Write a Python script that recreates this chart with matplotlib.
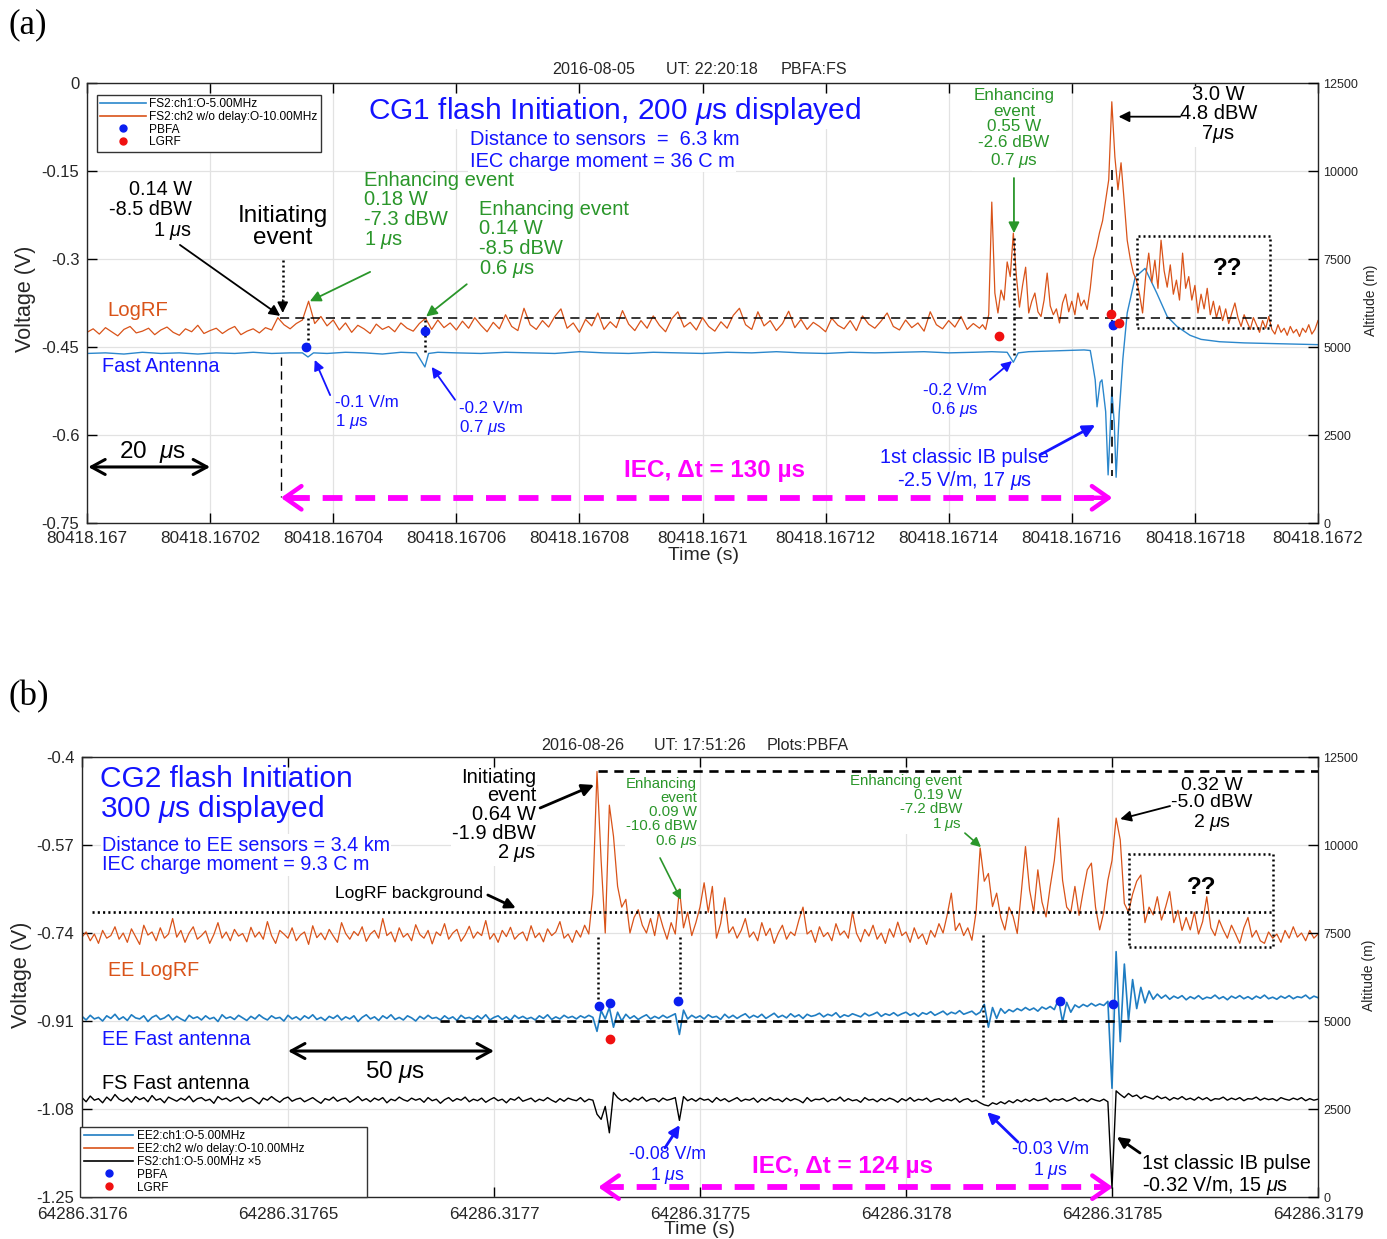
import numpy as np
import matplotlib
matplotlib.use('Agg')
import matplotlib.pyplot as plt
from matplotlib.lines import Line2D
from matplotlib.patches import Rectangle

plt.rcParams['font.family'] = ['Liberation Sans', 'DejaVu Sans']
plt.rcParams['mathtext.fontset'] = 'custom'
plt.rcParams['mathtext.rm'] = 'Liberation Sans'
plt.rcParams['mathtext.it'] = 'Liberation Sans:italic'
plt.rcParams['mathtext.bf'] = 'Liberation Sans:bold'

# ------------------------------------------------------------------ data (a)
a_xticks_us = [0, 20, 40, 60, 80, 100, 120, 140, 160, 180, 200]
a_xticklabels = ['80418.167', '80418.16702', '80418.16704', '80418.16706', '80418.16708',
                 '80418.1671', '80418.16712', '80418.16714', '80418.16716', '80418.16718',
                 '80418.1672']
a_yticks = [0, -0.15, -0.3, -0.45, -0.6, -0.75]
a_yticklabels = ['0', '-0.15', '-0.3', '-0.45', '-0.6', '-0.75']
alt_ticks = [0, 2500, 5000, 7500, 10000, 12500]

# LogRF (mV), 1 us steps from 0 to 145 us
a_rf_coarse_mV = [
    -425, -419, -428, -417, -424, -431, -420, -415, -426, -423,
    -418, -429, -421, -416, -425, -430, -419, -424, -413, -427,
    -422, -418, -427, -420, -415, -429, -423, -419, -426, -417,
    -421, -400, -412, -419, -410, -404, -372, -410, -398, -414,
    -404, -421, -409, -425, -413, -419, -427, -411, -420, -415,
    -424, -409, -418, -423, -410, -401, -420, -404, -417, -409,
    -421, -406, -418, -400, -413, -424, -408, -419, -395, -415,
    -422, -384, -412, -420, -405, -416, -398, -385, -418, -409,
    -425, -403, -414, -392, -420, -407, -417, -388, -411, -422,
    -405, -418, -397, -413, -424, -402, -390, -416, -408, -421,
    -400, -415, -423, -407, -418, -396, -384, -412, -420, -390,
    -414, -405, -422, -410, -389, -417, -403, -420, -408, -415,
    -424, -401, -413, -419, -405, -422, -397, -411, -418, -406,
    -392, -415, -421, -404, -417, -409, -423, -390, -412, -419,
    -405, -416, -398, -420, -410, -418]
# LogRF (mV), 0.5 us steps from 145.5 to 200 us
a_rf_fine_mV = [
    -412, -420, -395, -203, -358, -392, -353, -370, -305, -330,
    -256, -330, -382, -345, -314, -392, -372, -358, -390, -398,
    -370, -324, -380, -395, -385, -409, -375, -360, -390, -372,
    -395, -358, -380, -370, -386, -350, -300, -280, -255, -235,
    -200, -165, -32, -126, -182, -136, -200, -268, -300, -324,
    -336, -360, -392, -330, -290, -340, -302, -350, -268, -320,
    -348, -310, -360, -336, -370, -290, -350, -330, -370, -345,
    -392, -360, -385, -350, -395, -372, -400, -380, -405, -385,
    -410, -392, -375, -400, -415, -395, -408, -420, -400, -412,
    -425, -405, -418, -398, -420, -428, -412, -425, -418, -430,
    -415, -426, -420, -432, -418, -425, -412, -428, -420, -405]
# Fast antenna (a): (time us, mV)
a_fa_points = [
    (0, -461), (3, -460), (6, -462), (9, -459), (12, -461), (15, -460), (18, -462),
    (21, -460), (24, -461), (27, -459), (30, -461), (33, -460), (35, -460), (35.9, -467),
    (36.8, -460), (39, -461), (42, -459), (45, -460), (48, -462), (51, -459), (53.5, -460),
    (54.9, -484), (55.5, -461), (57, -459), (60, -460), (64, -461), (68, -459), (72, -460),
    (76, -461), (80, -458), (84, -460), (88, -461), (92, -459), (96, -460), (100, -461),
    (104, -459), (108, -460), (112, -458), (116, -460), (120, -461), (124, -459), (128, -460),
    (132, -459), (136, -458), (140, -460), (144, -459), (147, -458), (149.5, -459),
    (150.5, -476), (151.3, -460), (153, -458), (156, -457), (159, -456), (162, -455),
    (163.0, -456), (163.4, -480), (163.8, -506), (164.1, -552), (164.6, -510), (164.9, -506),
    (165.5, -560), (165.9, -668), (166.2, -600), (166.5, -523), (166.9, -580), (167.2, -672),
    (167.7, -563), (168.3, -470), (169.0, -392), (170.3, -331), (171.9, -316), (173.8, -358),
    (175.5, -398), (177.1, -415), (179.2, -430), (181, -437), (184, -441), (188, -443),
    (192, -444), (196, -445), (200, -446)]
a_pbfa_t = [35.6, 54.9, 166.7]
a_pbfa_v = [-0.450, -0.423, -0.4125]
a_lgrf_t = [148.2, 166.3, 167.7]
a_lgrf_v = [-0.432, -0.393, -0.409]

# ------------------------------------------------------------------ data (b)
b_xticks_us = [0, 50, 100, 150, 200, 250, 300]
b_xticklabels = ['64286.3176', '64286.31765', '64286.3177', '64286.31775',
                 '64286.3178', '64286.31785', '64286.3179']
b_yticks = [-0.4, -0.57, -0.74, -0.91, -1.08, -1.25]
b_yticklabels = ['-0.4', '-0.57', '-0.74', '-0.91', '-1.08', '-1.25']

# EE LogRF (mV), 1 us steps 0..300
b_rf_mV = [
    -748, -738, -755, -742, -760, -735, -750, -745, -728, -752,
    -740, -758, -732, -747, -762, -725, -744, -738, -755, -730,
    -750, -742, -712, -748, -735, -758, -740, -728, -752, -745,
    -736, -760, -743, -720, -750, -738, -755, -733, -746, -741,
    -757, -729, -748, -738, -752, -718, -745, -760, -735, -742,
    -750, -730, -755, -744, -738, -762, -726, -749, -740, -753,
    -733, -746, -758, -720, -741, -752, -737, -745, -728, -756,
    -742, -735, -750, -712, -745, -738, -757, -730, -748, -741,
    -755, -724, -743, -750, -735, -761, -738, -745, -722, -752,
    -740, -733, -756, -744, -727, -750, -738, -745, -716, -752,
    -741, -758, -735, -747, -729, -752, -743, -738, -755, -726,
    -749, -740, -757, -732, -745, -738, -718, -750, -742, -758,
    -735, -748, -725, -742, -665, -428, -600, -740, -493, -553,
    -650, -690, -675, -740, -710, -695, -725, -740, -712, -745,
    -700, -728, -752, -720, -742, -655, -730, -700, -745, -720,
    -690, -643, -700, -650, -750, -722, -672, -740, -728, -750,
    -735, -712, -748, -738, -755, -720, -745, -731, -760, -740,
    -725, -752, -738, -745, -715, -690, -742, -735, -758, -728,
    -747, -739, -755, -722, -744, -736, -750, -700, -741, -757,
    -733, -746, -725, -752, -740, -760, -732, -748, -719, -745,
    -738, -758, -730, -751, -742, -762, -735, -748, -722, -740,
    -705, -663, -735, -721, -745, -730, -754, -700, -576, -640,
    -625, -689, -663, -710, -734, -690, -708, -741, -660, -573,
    -657, -700, -618, -680, -709, -650, -600, -518, -638, -690,
    -700, -650, -706, -660, -618, -605, -690, -734, -700, -638,
    -600, -518, -560, -683, -700, -665, -640, -628, -720, -690,
    -705, -670, -715, -690, -660, -720, -696, -735, -710, -734,
    -700, -742, -718, -670, -730, -745, -715, -734, -750, -725,
    -742, -760, -730, -710, -748, -735, -755, -760, -738, -750,
    -742, -758, -735, -750, -728, -748, -740, -755, -735, -750,
    -742]
# EE fast antenna (mV), 1 us steps 0..300
b_ee_mV = [
    -901, -908, -899, -906, -903, -910, -900, -905, -897, -907,
    -902, -909, -898, -904, -906, -900, -911, -903, -899, -907,
    -904, -898, -908, -901, -906, -910, -899, -905, -902, -908,
    -900, -906, -903, -911, -898, -905, -902, -907, -899, -904,
    -909, -901, -906, -898, -904, -908, -900, -905, -903, -910,
    -899, -906, -902, -908, -900, -905, -898, -907, -903, -909,
    -901, -905, -899, -908, -902, -906, -900, -911, -903, -898,
    -906, -902, -909, -900, -905, -898, -907, -903, -908, -900,
    -904, -910, -901, -906, -899, -905, -903, -908, -900, -906,
    -902, -909, -899, -905, -903, -907, -900, -906, -898, -908,
    -903, -900, -907, -902, -909, -899, -905, -901, -906, -903,
    -908, -900, -905, -898, -907, -902, -906, -899, -904, -901,
    -906, -900, -904, -899, -903, -930, -890, -906, -884, -922,
    -893, -910, -897, -905, -900, -907, -902, -898, -906, -901,
    -905, -899, -904, -900, -896, -936, -889, -906, -899, -904,
    -900, -906, -898, -903, -901, -907, -897, -904, -899, -905,
    -900, -896, -904, -899, -903, -897, -905, -900, -895, -903,
    -899, -904, -896, -902, -898, -905, -897, -901, -899, -895,
    -902, -897, -900, -894, -903, -898, -901, -896, -899, -902,
    -895, -900, -897, -893, -901, -896, -899, -894, -900, -896,
    -893, -899, -895, -901, -894, -897, -892, -899, -895, -891,
    -898, -893, -896, -890, -897, -894, -891, -898, -893, -878,
    -922, -884, -905, -886, -895, -888, -892, -886, -890, -884,
    -889, -885, -891, -883, -887, -882, -888, -868, -912, -874,
    -893, -879, -884, -878, -882, -876, -881, -877, -880, -872,
    -1040, -776, -950, -800, -910, -830, -886, -845, -875, -852,
    -868, -858, -866, -860, -868, -862, -866, -861, -869, -863,
    -867, -861, -868, -864, -866, -860, -867, -863, -869, -862,
    -866, -861, -867, -863, -868, -862, -866, -860, -867, -864,
    -868, -862, -866, -861, -867, -863, -865, -860, -867, -862,
    -865]
# FS fast antenna x5 (mV), 1 us steps 0..300
b_fs_mV = [
    -1058, -1066, -1055, -1063, -1060, -1068, -1057, -1064, -1052, -1061,
    -1065, -1059, -1067, -1056, -1062, -1058, -1066, -1054, -1063, -1060,
    -1068, -1057, -1061, -1065, -1059, -1063, -1055, -1066, -1060, -1058,
    -1064, -1061, -1069, -1056, -1062, -1059, -1065, -1060, -1057, -1066,
    -1061, -1058, -1064, -1070, -1059, -1063, -1056, -1062, -1067, -1060,
    -1057, -1065, -1061, -1059, -1066, -1062, -1058, -1064, -1069, -1060,
    -1063, -1057, -1065, -1061, -1059, -1067, -1062, -1056, -1064, -1060,
    -1066, -1059, -1063, -1058, -1068, -1061, -1064, -1057, -1062, -1065,
    -1059, -1063, -1060, -1067, -1058, -1064, -1061, -1069, -1062, -1058,
    -1065, -1060, -1063, -1057, -1066, -1061, -1064, -1059, -1067, -1062,
    -1058, -1064, -1061, -1068, -1060, -1063, -1057, -1065, -1062, -1059,
    -1066, -1061, -1064, -1058, -1063, -1067, -1060, -1065, -1059, -1062,
    -1064, -1058, -1066, -1061, -1063, -1090, -1100, -1075, -1126, -1048,
    -1058, -1064, -1060, -1066, -1059, -1063, -1057, -1065, -1061, -1060,
    -1066, -1059, -1063, -1061, -1058, -1102, -1056, -1064, -1060, -1065,
    -1059, -1063, -1061, -1067, -1058, -1064, -1060, -1066, -1062, -1058,
    -1065, -1061, -1063, -1059, -1067, -1060, -1064, -1058, -1063, -1061,
    -1066, -1059, -1064, -1060, -1063, -1068, -1058, -1065, -1061, -1062,
    -1059, -1066, -1061, -1063, -1057, -1065, -1060, -1064, -1062, -1067,
    -1058, -1063, -1061, -1066, -1060, -1064, -1059, -1062, -1067, -1060,
    -1064, -1058, -1065, -1061, -1063, -1059, -1066, -1062, -1060, -1065,
    -1061, -1064, -1059, -1067, -1062, -1060, -1066, -1063, -1068, -1072,
    -1074, -1068, -1071, -1066, -1070, -1064, -1068, -1062, -1066, -1061,
    -1065, -1060, -1064, -1062, -1059, -1066, -1061, -1063, -1060, -1065,
    -1062, -1058, -1064, -1061, -1066, -1060, -1063, -1065, -1061, -1066,
    -1233, -1045, -1052, -1058, -1050, -1056, -1053, -1060, -1055, -1058,
    -1061, -1055, -1060, -1057, -1063, -1058, -1061, -1056, -1062, -1059,
    -1063, -1057, -1062, -1058, -1064, -1060, -1061, -1057, -1063, -1059,
    -1062, -1058, -1064, -1060, -1061, -1057, -1063, -1059, -1062, -1060,
    -1064, -1058, -1061, -1063, -1059, -1062, -1058, -1064, -1060, -1063,
    -1061]
b_pbfa_t = [125.5, 128.2, 144.7, 237.4, 250.2]
b_pbfa_v = [-0.881, -0.875, -0.871, -0.871, -0.877]
b_lgrf_t = [128.2]
b_lgrf_v = [-0.945]

# ------------------------------------------------------------------ style
ORANGE = '#D95319'
BLUE_A = '#2b87cc'
BLUE_B = '#1f7dc2'
TXT_BLUE = '#1414ff'
GREEN = '#2a962a'
MAG = '#ff00ff'
DOT_BLUE = '#0a1ef0'
DOT_RED = '#f01010'
WBG = dict(facecolor='white', edgecolor='none', pad=1.0)

fig = plt.figure(figsize=(13.87, 12.39), dpi=100)
W, H = 1387.0, 1239.0
ax_a = fig.add_axes([87 / W, 1 - 523 / H, 1231 / W, 440 / H])
ax_b = fig.add_axes([82 / W, 1 - 1197 / H, 1236 / W, 440 / H])


def style_axes(ax, xlim, xticks, xlabels, ylim, yticks, ylabels, xfs, xpad):
    ax.set_xlim(*xlim)
    ax.set_ylim(*ylim)
    ax.set_xticks(xticks)
    ax.set_xticklabels(xlabels, fontsize=xfs, color='#262626')
    ax.set_yticks(yticks)
    ax.set_yticklabels(ylabels, fontsize=12, color='#262626')
    ax.tick_params(direction='in', top=True, right=False, length=7, width=1)
    ax.tick_params(axis='x', pad=xpad)
    ax.tick_params(axis='y', pad=5.5)
    ax.grid(True, color='#e2e2e2', lw=0.9)
    ax.set_axisbelow(True)
    for s in ax.spines.values():
        s.set_color('#262626')
        s.set_linewidth(1.0)
    ax2 = ax.twinx()
    ax2.set_ylim(0, 12500)
    ax2.set_yticks(alt_ticks)
    ax2.set_yticklabels([str(v) for v in alt_ticks], fontsize=9, color='#262626')
    ax2.tick_params(direction='in', length=7, width=1, pad=4)
    for s in ax2.spines.values():
        s.set_visible(False)
    return ax2


def arrow(ax, tail, head, color, lw=1.3, ms=14, style='-|>'):
    ax.annotate('', xy=head, xytext=tail,
                arrowprops=dict(arrowstyle=style, color=color, lw=lw,
                                mutation_scale=ms, shrinkA=0, shrinkB=0))


def dbl_arrow(ax, x1, x2, y, color, lw, ms):
    ax.annotate('', xy=(x2, y), xytext=(x1, y),
                arrowprops=dict(arrowstyle='<->, head_length=0.55, head_width=0.3',
                                color=color, lw=lw, mutation_scale=ms,
                                shrinkA=0, shrinkB=0))


def magenta_arrow(ax, x1, x2, y):
    ax.plot([x1 + 1.5, x2 - 1.5], [y, y], color=MAG, lw=4.2, dashes=(3.4, 2.2),
            solid_capstyle='butt', zorder=4)
    for xa, xb in ((x1 + 4, x1), (x2 - 4, x2)):
        ax.annotate('', xy=(xb, y), xytext=(xa, y),
                    arrowprops=dict(arrowstyle='->, head_length=0.5, head_width=0.35',
                                    color=MAG, lw=3.2, mutation_scale=24,
                                    shrinkA=0, shrinkB=0), zorder=4)


DOT = (0, (0.8, 1.2))

# ======================================================================== (a)
ax2a = style_axes(ax_a, (0, 200), a_xticks_us, a_xticklabels, (-0.75, 0),
                  a_yticks, a_yticklabels, 12.3, 5.5)

t_coarse = np.arange(len(a_rf_coarse_mV), dtype=float)
t_fine = 145.5 + 0.5 * np.arange(len(a_rf_fine_mV))
t_rf_a = np.concatenate([t_coarse, t_fine])
v_rf_a = np.concatenate([a_rf_coarse_mV, a_rf_fine_mV]) / 1000.0
fa = np.array(a_fa_points, dtype=float)

ax_a.plot(fa[:, 0], fa[:, 1] / 1000.0, color=BLUE_A, lw=1.0, zorder=2)
ax_a.plot(t_rf_a, v_rf_a, color=ORANGE, lw=0.9, zorder=2)

# reference lines
ax_a.plot([31.4, 191.9], [-0.40, -0.40], color='k', lw=1.1, dashes=(6, 4), zorder=3)
ax_a.plot([31.5, 31.5], [-0.467, -0.706], color='k', lw=1.0, dashes=(6, 4), zorder=3)
ax_a.plot([166.6, 166.6], [-0.148, -0.67], color='k', lw=1.2, dashes=(6, 4), zorder=3)
ax_a.plot([35.9, 35.9], [-0.40, -0.447], color='k', lw=1.8, ls=DOT, zorder=3)
ax_a.plot([54.9, 54.9], [-0.404, -0.459], color='k', lw=1.8, ls=DOT, zorder=3)
ax_a.plot([150.6, 150.6], [-0.264, -0.465], color='k', lw=1.8, ls=DOT, zorder=3)
ax_a.add_patch(Rectangle((170.6, -0.418), 192.2 - 170.6, 0.418 - 0.261, fill=False,
                         ec='k', lw=1.8, ls=DOT, zorder=3))

ax_a.plot(a_pbfa_t, a_pbfa_v, 'o', color=DOT_BLUE, ms=6, zorder=5)
ax_a.plot(a_lgrf_t, a_lgrf_v, 'o', color=DOT_RED, ms=6, zorder=5)

# texts (a)
ax_a.text(45.6, -0.048, r'CG1 flash Initiation, 200 $\mu$s displayed', color=TXT_BLUE,
          fontsize=21.5, ha='left', va='center', bbox=WBG)
ax_a.text(62.2, -0.097, 'Distance to sensors  =  6.3 km', color=TXT_BLUE, fontsize=14.4,
          ha='left', va='center', bbox=WBG)
ax_a.text(62.2, -0.133, 'IEC charge moment = 36 C m', color=TXT_BLUE, fontsize=14.4,
          ha='left', va='center', bbox=WBG)
ax_a.text(17.06, -0.218, '0.14 W\n-8.5 dBW\n1 $\\mu$s', color='k', fontsize=14.3,
          ha='right', va='center', linespacing=1.05, bbox=WBG)
arrow(ax_a, (15.1, -0.276), (31.4, -0.397), 'k', lw=1.3, ms=16)
ax_a.text(31.8, -0.246, 'Initiating\nevent', color='k', fontsize=17.5, ha='center',
          va='center', linespacing=1.0, bbox=WBG)
ax_a.plot([31.8, 31.8], [-0.302, -0.372], color='k', lw=1.8, ls=DOT, zorder=3)
arrow(ax_a, (31.8, -0.37), (31.8, -0.392), 'k', lw=1.2, ms=16)
ax_a.text(45.0, -0.167, 'Enhancing event', color=GREEN, fontsize=14.5, ha='left',
          va='center')
ax_a.text(45.0, -0.235, '0.18 W\n-7.3 dBW\n1 $\\mu$s', color=GREEN,
          fontsize=14.5, ha='left', va='center', linespacing=1.03)
arrow(ax_a, (46.0, -0.322), (36.2, -0.372), GREEN, lw=1.3, ms=16)
ax_a.text(63.7, -0.268, 'Enhancing event\n0.14 W\n-8.5 dBW\n0.6 $\\mu$s', color=GREEN,
          fontsize=14.5, ha='left', va='center', linespacing=1.03)
arrow(ax_a, (61.7, -0.343), (55.1, -0.398), GREEN, lw=1.3, ms=16)
ax_a.text(150.6, -0.078, 'Enhancing\nevent\n0.55 W\n-2.6 dBW\n0.7 $\\mu$s', color=GREEN,
          fontsize=12.3, ha='center', va='center', linespacing=1.05, bbox=WBG)
arrow(ax_a, (150.6, -0.162), (150.6, -0.256), GREEN, lw=1.3, ms=16)
ax_a.text(183.8, -0.055, '3.0 W\n4.8 dBW\n7$\\mu$s', color='k', fontsize=14.5,
          ha='center', va='center', linespacing=1.0, bbox=WBG)
arrow(ax_a, (177.6, -0.0574), (167.6, -0.0574), 'k', lw=1.3, ms=16)
ax_a.text(185.4, -0.317, '??', color='k', fontsize=17.5, fontweight='bold',
          ha='center', va='center')
ax_a.text(3.25, -0.387, 'LogRF', color=ORANGE, fontsize=14.6, ha='left', va='center')
ax_a.text(2.44, -0.484, 'Fast Antenna', color=TXT_BLUE, fontsize=14.3, ha='left',
          va='center')
ax_a.text(40.3, -0.5625, '-0.1 V/m\n1 $\\mu$s', color=TXT_BLUE, fontsize=12.2, ha='left',
          va='center', linespacing=1.15)
arrow(ax_a, (39.5, -0.532), (37.0, -0.472), TXT_BLUE, lw=1.3, ms=15)
ax_a.text(60.4, -0.573, '-0.2 V/m\n0.7 $\\mu$s', color=TXT_BLUE, fontsize=12.2, ha='left',
          va='center', linespacing=1.15)
arrow(ax_a, (59.8, -0.540), (56.0, -0.484), TXT_BLUE, lw=1.3, ms=15)
ax_a.text(141.0, -0.542, '-0.2 V/m\n0.6 $\\mu$s', color=TXT_BLUE, fontsize=12.2,
          ha='center', va='center', linespacing=1.15)
arrow(ax_a, (146.7, -0.506), (150.3, -0.474), TXT_BLUE, lw=1.3, ms=15)
ax_a.text(142.6, -0.6595, '1st classic IB pulse\n-2.5 V/m, 17 $\\mu$s', color=TXT_BLUE,
          fontsize=14.2, ha='center', va='center', linespacing=1.1)
arrow(ax_a, (154.8, -0.634), (163.8, -0.583), TXT_BLUE, lw=2.0, ms=18)
ax_a.text(10.6, -0.629, '20  $\\mu$s', color='k', fontsize=17.5, ha='center', va='center')
dbl_arrow(ax_a, 0.2, 20, -0.6545, 'k', 2.2, 18)
ax_a.text(102, -0.66, 'IEC, Δt = 130 µs', color=MAG, fontsize=17.5, fontweight='bold',
          ha='center', va='center')
magenta_arrow(ax_a, 31.5, 166.6, -0.707)

leg_a = [Line2D([], [], color=BLUE_A, lw=1.2, label='FS2:ch1:O-5.00MHz'),
         Line2D([], [], color=ORANGE, lw=1.2, label='FS2:ch2 w/o delay:O-10.00MHz'),
         Line2D([], [], ls='none', marker='o', ms=5, color=DOT_BLUE, label='PBFA'),
         Line2D([], [], ls='none', marker='o', ms=5, color=DOT_RED, label='LGRF')]
lg = ax_a.legend(handles=leg_a, loc='upper left', bbox_to_anchor=(0.008, 0.973),
                 fontsize=8.6, frameon=True, fancybox=False, edgecolor='#333333',
                 framealpha=1, handlelength=3.8, handletextpad=0.3, labelspacing=0.05,
                 borderpad=0.3, borderaxespad=0)
lg.get_frame().set_linewidth(1.0)

# ======================================================================== (b)
ax2b = style_axes(ax_b, (0, 300), b_xticks_us, b_xticklabels, (-1.25, -0.4),
                  b_yticks, b_yticklabels, 12.3, 7.0)
t_b = np.arange(len(b_rf_mV), dtype=float)
ax_b.plot(np.arange(len(b_fs_mV)), np.array(b_fs_mV) / 1000.0, color='k', lw=1.0, zorder=2)
ax_b.plot(np.arange(len(b_ee_mV)), np.array(b_ee_mV) / 1000.0, color=BLUE_B, lw=1.2, zorder=2)
ax_b.plot(t_b, np.array(b_rf_mV) / 1000.0, color=ORANGE, lw=0.9, zorder=2)

ax_b.plot([2.4, 289.1], [-0.70, -0.70], color='k', lw=1.9, ls=DOT, zorder=3)
ax_b.plot([125.3, 300], [-0.428, -0.428], color='k', lw=1.9, dashes=(3.5, 2.5), zorder=3)
ax_b.plot([86.9, 289.1], [-0.91, -0.91], color='k', lw=1.9, dashes=(3.5, 2.5), zorder=3)
ax_b.plot([125.3, 125.3], [-0.748, -0.875], color='k', lw=1.8, ls=DOT, zorder=3)
ax_b.plot([145.1, 145.1], [-0.748, -0.870], color='k', lw=1.8, ls=DOT, zorder=3)
ax_b.plot([218.7, 218.7], [-0.744, -1.063], color='k', lw=1.8, ls=DOT, zorder=3)
ax_b.add_patch(Rectangle((254.1, -0.767), 289.1 - 254.1, 0.767 - 0.5874, fill=False,
                         ec='k', lw=1.8, ls=DOT, zorder=3))

ax_b.plot(b_pbfa_t, b_pbfa_v, 'o', color=DOT_BLUE, ms=6, zorder=5)
ax_b.plot(b_lgrf_t, b_lgrf_v, 'o', color=DOT_RED, ms=6, zorder=5)

ax_b.text(4.37, -0.4734, 'CG2 flash Initiation\n300 $\\mu$s displayed', color=TXT_BLUE,
          fontsize=21.5, ha='left', va='center', linespacing=1.0)
ax_b.text(4.85, -0.5893, 'Distance to EE sensors = 3.4 km\nIEC charge moment = 9.3 C m',
          color=TXT_BLUE, fontsize=14.2, ha='left', va='center', linespacing=1.05,
          bbox=WBG)
ax_b.text(97.3, -0.6628, 'LogRF background', color='k', fontsize=12.5, ha='right',
          va='center')
arrow(ax_b, (98.5, -0.6666), (105.3, -0.692), 'k', lw=2.0, ms=15)
ax_b.text(110.2, -0.514, 'Initiating\nevent\n0.64 W\n-1.9 dBW\n2 $\\mu$s', color='k',
          fontsize=14.5, ha='right', va='center', linespacing=0.97, bbox=WBG)
arrow(ax_b, (111.2, -0.4985), (124.3, -0.454), 'k', lw=2.0, ms=18)
ax_b.text(149.3, -0.509, 'Enhancing\nevent\n0.09 W\n-10.6 dBW\n0.6 $\\mu$s', color=GREEN,
          fontsize=10.8, ha='right', va='center', linespacing=1.0, bbox=WBG)
arrow(ax_b, (140.3, -0.595), (145.4, -0.676), GREEN, lw=1.2, ms=14)
ax_b.text(213.6, -0.489, 'Enhancing event\n0.19 W\n-7.2 dBW\n1 $\\mu$s', color=GREEN,
          fontsize=10.8, ha='right', va='center', linespacing=1.0, bbox=WBG)
arrow(ax_b, (214.3, -0.547), (218.2, -0.574), GREEN, lw=1.2, ms=14)
ax_b.text(274.3, -0.4927, '0.32 W\n-5.0 dBW\n2 $\\mu$s', color='k', fontsize=14.0,
          ha='center', va='center', linespacing=1.03, bbox=WBG)
arrow(ax_b, (264.1, -0.4947), (252.0, -0.5198), 'k', lw=1.3, ms=16)
ax_b.text(271.8, -0.653, '??', color='k', fontsize=17.5, fontweight='bold',
          ha='center', va='center')
ax_b.text(6.3, -0.8134, 'EE LogRF', color=ORANGE, fontsize=14.2, ha='left', va='center')
ax_b.text(4.85, -0.9467, 'EE Fast antenna', color=TXT_BLUE, fontsize=14.3, ha='left',
          va='center')
ax_b.text(4.85, -1.030, 'FS Fast antenna', color='k', fontsize=14.3, ha='left',
          va='center')
ax_b.text(76, -1.0086, '50 $\\mu$s', color='k', fontsize=17.5, ha='center', va='center')
dbl_arrow(ax_b, 50, 100, -0.968, 'k', 2.2, 18)
ax_b.text(142.0, -1.19, '-0.08 V/m\n1 $\\mu$s', color=TXT_BLUE, fontsize=12.8,
          ha='center', va='center', linespacing=1.1)
arrow(ax_b, (141.5, -1.155), (145.1, -1.111), TXT_BLUE, lw=2.0, ms=16)
ax_b.text(184.5, -1.192, 'IEC, Δt = 124 µs', color=MAG, fontsize=17.5, fontweight='bold',
          ha='center', va='center')
magenta_arrow(ax_b, 125.3, 250.2, -1.231)
ax_b.text(235.0, -1.1805, '-0.03 V/m\n1 $\\mu$s', color=TXT_BLUE, fontsize=12.8,
          ha='center', va='center', linespacing=1.1)
arrow(ax_b, (227.2, -1.144), (219.7, -1.086), TXT_BLUE, lw=2.0, ms=16)
ax_b.text(257.3, -1.2085, '1st classic IB pulse\n-0.32 V/m, 15 $\\mu$s', color='k',
          fontsize=14.2, ha='left', va='center', linespacing=1.1)
arrow(ax_b, (256.8, -1.165), (251.2, -1.134), 'k', lw=2.0, ms=16)

# legend (b): frame drawn as a box as wide as in the reference
ax_b.add_patch(Rectangle((-0.0016, 0.0), (367 - 80) / 1236, (1197 - 1127) / 440,
                         transform=ax_b.transAxes, facecolor='white', edgecolor='#333333',
                         lw=1.0, zorder=6, clip_on=False))
leg_b = [Line2D([], [], color=BLUE_B, lw=1.2, label='EE2:ch1:O-5.00MHz'),
         Line2D([], [], color=ORANGE, lw=1.2, label='EE2:ch2 w/o delay:O-10.00MHz'),
         Line2D([], [], color='k', lw=1.2, label='FS2:ch1:O-5.00MHz ×5'),
         Line2D([], [], ls='none', marker='o', ms=5, color=DOT_BLUE, label='PBFA'),
         Line2D([], [], ls='none', marker='o', ms=5, color=DOT_RED, label='LGRF')]
lgb = ax_b.legend(handles=leg_b, loc='upper left',
                  bbox_to_anchor=(0.0, (1197 - 1128) / 440),
                  fontsize=8.5, frameon=False, handlelength=4.2, handletextpad=0.3,
                  labelspacing=0.08, borderpad=0.15, borderaxespad=0)
lgb.set_zorder(7)

# ------------------------------------------------------------------ figure texts
def ftext(x, y, s, **kw):
    fig.text(x / W, 1 - y / H, s, **kw)


ftext(8, 25, '(a)', fontsize=25, family='Liberation Serif', ha='left', va='center')
ftext(8, 697, '(b)', fontsize=25, family='Liberation Serif', ha='left', va='center')
ftext(552, 70, '2016-08-05', fontsize=11.6, ha='left', va='center', color='#262626')
ftext(666, 70, 'UT: 22:20:18', fontsize=11.6, ha='left', va='center', color='#262626')
ftext(781, 70, 'PBFA:FS', fontsize=11.6, ha='left', va='center', color='#262626')
ftext(541, 745, '2016-08-26', fontsize=11.6, ha='left', va='center', color='#262626')
ftext(654, 745, 'UT: 17:51:26', fontsize=11.6, ha='left', va='center', color='#262626')
ftext(767, 745, 'Plots:PBFA', fontsize=11.6, ha='left', va='center', color='#262626')
ftext(25, 299, 'Voltage (V)', fontsize=15.5, rotation=90, ha='center', va='center',
      color='#262626')
ftext(22, 975, 'Voltage (V)', fontsize=15.5, rotation=90, ha='center', va='center',
      color='#262626')
ftext(703, 556, 'Time (s)', fontsize=14, ha='center', va='center', color='#262626')
ftext(700, 1230, 'Time (s)', fontsize=14, ha='center', va='center', color='#262626')
ftext(1371, 300, 'Altitude (m)', fontsize=10, rotation=90, ha='center', va='center',
      color='#262626')
ftext(1369, 975, 'Altitude (m)', fontsize=10, rotation=90, ha='center', va='center',
      color='#262626')

fig.savefig('out.png', dpi=100)
